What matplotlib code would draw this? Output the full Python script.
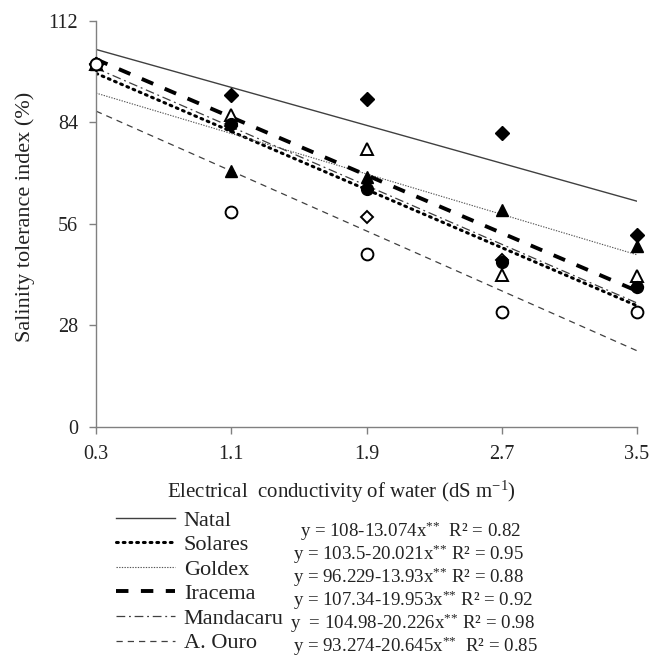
import numpy as np
import matplotlib
matplotlib.use("Agg")
import matplotlib.pyplot as plt

plt.rcParams["font.family"] = ["Liberation Serif", "DejaVu Serif"]
plt.rcParams["mathtext.fontset"] = "custom"
plt.rcParams["mathtext.rm"] = "Liberation Serif"
plt.rcParams["mathtext.it"] = "Liberation Serif"

# salinity levels (dS m-1)
ec = [0.3, 1.1, 1.9, 2.7, 3.5]

cultivars = ["Natal", "Solares", "Goldex", "Iracema", "Mandacaru", "A. Ouro"]

# observed salinity tolerance index (%)
natal = [100, 91.4, 90.4, 81.0, 53.0]
solares = [100, 83.5, 65.7, 45.5, 38.5]
goldex = [100, 70.7, 68.9, 59.7, 50.0]
iracema = [100, 85.9, 76.7, 41.8, 41.5]
mandacaru = [100, 83.0, 57.9, 46.0, 38.5]
a_ouro = [100, 59.2, 47.8, 31.7, 31.8]

# regression coefficients y = a + b*x
intercepts = [108, 103.5, 96.229, 107.34, 104.98, 93.274]
slopes = [-13.074, -20.021, -13.93, -19.953, -20.226, -20.645]
equations = [
    "y = 108-13.074x$^{{*}{*}}$  R² = 0.82",
    "y = 103.5-20.021x$^{{*}{*}}$ R² = 0.95",
    "y = 96.229-13.93x$^{{*}{*}}$ R² = 0.88",
    "y = 107.34-19.953x$^{{*}{*}}$ R² = 0.92",
    "y  = 104.98-20.226x$^{{*}{*}}$ R² = 0.98",
    "y = 93.274-20.645x$^{{*}{*}}$  R² = 0.85",
]

fig = plt.figure(figsize=(6.54, 6.65), dpi=100)
ax = fig.add_axes([96 / 654, 1 - 427 / 665, 541 / 654, 406.3 / 665])

line_styles = [
    dict(color="#404040", lw=1.0, ls="-"),
    dict(color="black", lw=2.2, ls=(0, (0.6, 1.6)), dash_capstyle="round"),
    dict(color="#555555", lw=0.8, ls=(0, (1.2, 1.2))),
    dict(color="black", lw=2.8, ls=(0, (3.2, 3.2))),
    dict(color="#404040", lw=0.9, ls=(0, (7, 3, 1.5, 3))),
    dict(color="#404040", lw=0.9, ls=(0, (5, 4))),
]

xs = np.array([ec[0], ec[-1]])
handles = []
for a, b, st, name in zip(intercepts, slopes, line_styles, cultivars):
    h, = ax.plot(xs, a + b * xs, label=name, **st)
    handles.append(h)

mk = dict(ls="none", clip_on=False, zorder=5, markeredgecolor="black")
ax.plot(ec, natal, marker="D", ms=6.8, color="black", **mk)
ax.plot(ec, mandacaru, marker="D", ms=6.5, markerfacecolor="white", mew=1.4, **mk)
ax.plot(ec, iracema, marker="^", ms=9, markerfacecolor="white", mew=1.4, **mk)
ax.plot(ec, solares, marker="o", ms=8.5, color="black", **mk)
ax.plot(ec, goldex, marker="^", ms=9, color="black", **mk)
ax.plot(ec, a_ouro, marker="o", ms=8.5, markerfacecolor="white", mew=1.4, **mk)

ax.set_xlim(0.3, 3.5)
ax.set_ylim(0, 112)
ax.set_xticks(ec)
ax.set_xticklabels([f"{v:.1f}" for v in ec])
ax.set_yticks([0, 28, 56, 84, 112])
for s in ["top", "right"]:
    ax.spines[s].set_visible(False)
for s in ["left", "bottom"]:
    ax.spines[s].set_color("#808080")
    ax.spines[s].set_linewidth(1.0)
ax.tick_params(direction="out", length=5, width=1, color="#808080",
               labelsize=14.5, labelcolor="#222222")
ax.tick_params(axis="y", pad=8)
ax.tick_params(axis="x", pad=8)

fig.text(25 / 654, 1 - 217 / 665, "Salinity tolerance index (%)", rotation=90,
         ha="center", va="center", fontsize=16, color="#222222")
fig.text(341 / 654, 1 - 492 / 665, "Electrical  conductivity of water (dS m$^{\\mathregular{-1}}$)",
         ha="center", va="center", fontsize=15, color="#222222")

leg = fig.legend(handles=handles, loc="upper left",
                 bbox_to_anchor=(116 / 654, 1 - 510 / 665), frameon=False,
                 fontsize=16, handlelength=2.65, handletextpad=0.4,
                 labelspacing=0.18, borderaxespad=0, borderpad=0)
for t in leg.get_texts():
    t.set_color("#222222")

eq_y = [531, 554, 577, 600, 623, 646]
eq_x = [300, 293, 293, 293, 290, 293]
for x, y, s in zip(eq_x, eq_y, equations):
    fig.text(x / 654, 1 - y / 665, s, ha="left", va="center", fontsize=13.6,
             color="#222222")

fig.savefig("out.png", dpi=100)
